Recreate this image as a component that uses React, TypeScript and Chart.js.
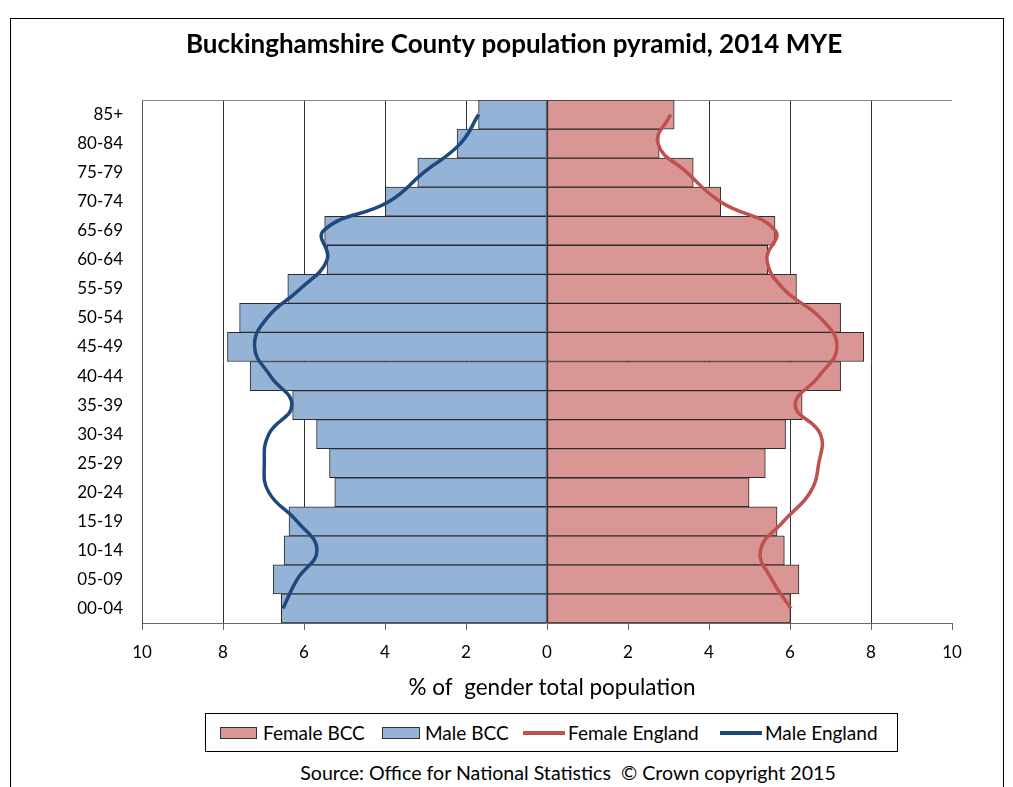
import React, { useEffect, useRef } from "react";
import { Chart, registerables } from "chart.js";

Chart.register(...registerables);

const chartTitle = "Buckinghamshire County population pyramid, 2014 MYE";
const axisTitle = "% of  gender total population";
const sourceText = "Source: Office for National Statistics  \u00A9 Crown copyright 2015";

const ageGroups = [
  "00-04", "05-09", "10-14", "15-19", "20-24", "25-29", "30-34", "35-39", "40-44",
  "45-49", "50-54", "55-59", "60-64", "65-69", "70-74", "75-79", "80-84", "85+",
];
const femaleBCC = [6.01, 6.22, 5.86, 5.68, 4.99, 5.39, 5.89, 6.3, 7.25, 7.82, 7.25, 6.16, 5.45, 5.63, 4.29, 3.61, 2.77, 3.14];
const maleBCC = [6.56, 6.76, 6.49, 6.37, 5.24, 5.37, 5.69, 6.28, 7.33, 7.89, 7.59, 6.4, 5.43, 5.49, 3.99, 3.19, 2.22, 1.69];
const femaleEngland = [6.02, 5.55, 5.27, 5.84, 6.5, 6.71, 6.75, 6.13, 6.72, 7.16, 6.75, 5.84, 5.43, 5.64, 4.28, 3.46, 2.74, 3.05];
const maleEngland = [6.52, 6.17, 5.68, 6.17, 6.87, 6.98, 6.87, 6.3, 6.83, 7.22, 6.91, 6.09, 5.43, 5.52, 3.91, 3.05, 2.14, 1.69];
const xTicks = [-10, -8, -6, -4, -2, 0, 2, 4, 6, 8, 10];

const FONT = "Lato, 'Open Sans', sans-serif";
const femaleFill = "#D99694";
const maleFill = "#95B3D7";
const femaleLine = "#C0504D";
const maleLine = "#1F497D";

const textPlugin = {
  id: "texts",
  beforeDatasetsDraw(chart: any) {
    const { ctx, chartArea } = chart;
    ctx.save();
    ctx.strokeStyle = "#888";
    ctx.lineWidth = 1;
    ctx.beginPath();
    ctx.moveTo(chartArea.left, Math.round(chartArea.top) + 0.5);
    ctx.lineTo(chartArea.right, Math.round(chartArea.top) + 0.5);
    ctx.stroke();
    ctx.restore();
  },
  afterDraw(chart: any) {
    const { ctx } = chart;
    ctx.save();
    ctx.fillStyle = "#000";
    ctx.textAlign = "center";
    ctx.textBaseline = "middle";
    ctx.font = `bold 26px ${FONT}`;
    ctx.fillText(chartTitle, 514, 45);
    ctx.font = `22.5px ${FONT}`;
    ctx.fillText(axisTitle, 552, 688);
    ctx.restore();
  },
};

export default function App() {
  const canvasRef = useRef<HTMLCanvasElement | null>(null);

  useEffect(() => {
    const canvas = canvasRef.current;
    if (!canvas) return;
    const chart = new Chart(canvas, {
      type: "bar",
      data: {
        labels: ageGroups,
        datasets: [
          {
            type: "line",
            label: "Female England",
            data: femaleEngland,
            borderColor: femaleLine,
            borderWidth: 3.5,
            pointRadius: 0,
            tension: 0.45,
            fill: false,
            order: 0,
          } as any,
          {
            type: "line",
            label: "Male England",
            data: maleEngland.map((v) => -v),
            borderColor: maleLine,
            borderWidth: 3.5,
            pointRadius: 0,
            tension: 0.45,
            fill: false,
            order: 0,
          } as any,
          {
            type: "bar",
            label: "Female BCC",
            data: femaleBCC,
            backgroundColor: femaleFill,
            borderColor: "#2b2b2b",
            borderWidth: 1,
            borderSkipped: false,
            barPercentage: 1,
            categoryPercentage: 1,
            grouped: false,
            order: 1,
          } as any,
          {
            type: "bar",
            label: "Male BCC",
            data: maleBCC.map((v) => -v),
            backgroundColor: maleFill,
            borderColor: "#2b2b2b",
            borderWidth: 1,
            borderSkipped: false,
            barPercentage: 1,
            categoryPercentage: 1,
            grouped: false,
            order: 1,
          } as any,
        ],
      },
      options: {
        indexAxis: "y",
        animation: false,
        responsive: false,
        devicePixelRatio: 1,
        layout: { padding: { top: 100, left: 0, right: 61, bottom: 47 } },
        plugins: {
          legend: { display: false },
          title: { display: false },
          tooltip: { enabled: false },
        },
        scales: {
          x: {
            type: "linear",
            min: -10,
            max: 10,
            afterBuildTicks: (scale: any) => {
              scale.ticks = xTicks.map((v) => ({ value: v }));
            },
            ticks: {
              callback: (v: any) => String(Math.abs(Number(v))),
              font: { family: FONT, size: 17 },
              color: "#000",
              padding: 12,
              maxRotation: 0,
            },
            grid: {
              color: (ctx: any) =>
                ctx.tick && Math.abs(ctx.tick.value) === 10 ? "rgba(0,0,0,0)" : "#333",
              lineWidth: 1,
              drawTicks: true,
              tickLength: 7,
              tickColor: "#666",
            },
            border: { display: true, color: "#666", width: 1 },
            afterFit: (s: any) => {
              s.height = 40;
            },
          },
          y: {
            type: "category",
            reverse: true,
            offset: true,
            grid: { color: "rgba(0,0,0,0)", drawTicks: false },
            border: { display: true, color: "#555", width: 1 },
            ticks: {
              font: { family: FONT, size: 17 },
              color: "#000",
              padding: 19,
              autoSkip: false,
            },
            afterFit: (s: any) => {
              s.width = 142;
            },
          },
        },
      } as any,
      plugins: [textPlugin],
    });
    return () => chart.destroy();
  }, []);

  const legendText: React.CSSProperties = {
    position: "absolute",
    top: 721,
    fontFamily: FONT,
    fontSize: 19,
    lineHeight: "24px",
    color: "#000",
    whiteSpace: "pre",
  };

  return (
    <div
      style={{
        position: "fixed",
        left: 0,
        top: 0,
        width: 1013,
        height: 787,
        background: "#fff",
        overflow: "hidden",
      }}
    >
      <div
        style={{
          position: "absolute",
          left: 10,
          top: 18,
          width: 994,
          height: 800,
          border: "1px solid #000",
          boxSizing: "border-box",
        }}
      />
      <canvas
        ref={canvasRef}
        width={1013}
        height={710}
        style={{ position: "absolute", left: 0, top: 0, width: 1013, height: 710 }}
      />
      <div
        style={{
          position: "absolute",
          left: 205,
          top: 713,
          width: 693,
          height: 39,
          border: "1px solid #000",
          boxSizing: "border-box",
          background: "#fff",
        }}
      />
      <div style={{ position: "absolute", left: 220, top: 727, width: 37, height: 12, background: femaleFill, border: "1px solid #333", boxSizing: "border-box" }} />
      <div style={{ ...legendText, left: 263 }}>Female BCC</div>
      <div style={{ position: "absolute", left: 382, top: 727, width: 38, height: 12, background: maleFill, border: "1px solid #333", boxSizing: "border-box" }} />
      <div style={{ ...legendText, left: 425 }}>Male BCC</div>
      <div style={{ position: "absolute", left: 523, top: 731, width: 42, height: 4, background: femaleLine }} />
      <div style={{ ...legendText, left: 568 }}>Female England</div>
      <div style={{ position: "absolute", left: 720, top: 731, width: 42, height: 4, background: maleLine }} />
      <div style={{ ...legendText, left: 765 }}>Male England</div>
      <div
        style={{
          position: "absolute",
          left: 0,
          width: 1136,
          top: 761,
          textAlign: "center",
          fontFamily: FONT,
          fontSize: 19.6,
          lineHeight: "24px",
          color: "#000",
          whiteSpace: "pre",
        }}
      >
        {sourceText}
      </div>
    </div>
  );
}
